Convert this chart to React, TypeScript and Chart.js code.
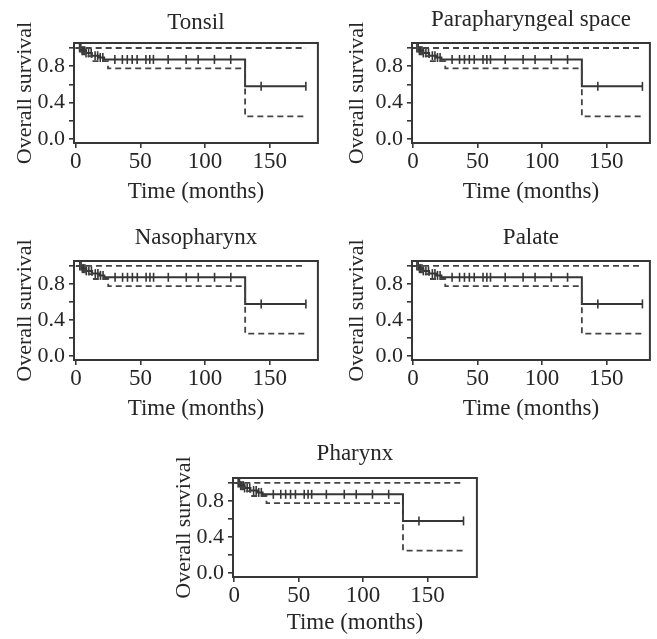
import React, { useEffect, useRef } from 'react';
import { Chart, registerables } from 'chart.js';
Chart.register(...registerables);

// ---------- data ----------
const panelTitles = ['Tonsil', 'Parapharyngeal space', 'Nasopharynx', 'Palate', 'Pharynx'];

// Kaplan-Meier estimate (value after each step)
const survTimes = [0, 5, 8, 12.5, 18, 22, 131, 178];
const survValues = [1.0, 0.97, 0.945, 0.915, 0.895, 0.874, 0.578, 0.578];

// lower 95% CI
const lowerTimes = [0, 5, 8, 12.5, 25, 131, 178];
const lowerValues = [1.0, 0.95, 0.91, 0.855, 0.775, 0.248, 0.248];

// upper 95% CI
const upperTimes = [0, 178];
const upperValues = [1.0, 1.0];

// censored observations (months)
const censorTimes = [3, 4, 5, 6, 7, 8, 10, 12, 15, 17, 19, 21, 30.3, 36.1, 39.9, 43.7, 47.5, 54.3, 57.3, 60.1, 71.5, 85.4, 94.7, 107.3, 119.9, 143.4, 178];

const xTicks = [0, 50, 100, 150];
const yTicks = [0, 0.2, 0.4, 0.6, 0.8, 1.0];
const yLabelled = [0, 0.4, 0.8];

// ---------- layout (page pixels) ----------
const layouts = [
  { boxLeft: 74, boxRight: 322, boxTop: 43, boxBottom: 143, titleY: 23, xTitleY: 192, yTitleX: 25, xMin: -1.3, xMax: 187.3 },
  { boxLeft: 412, boxRight: 654, boxTop: 43, boxBottom: 143, titleY: 20, xTitleY: 192, yTitleX: 357, xMin: -0.8, xMax: 183.8 },
  { boxLeft: 74, boxRight: 322, boxTop: 261, boxBottom: 360, titleY: 238, xTitleY: 409, yTitleX: 25, xMin: -1.5, xMax: 187.3 },
  { boxLeft: 412, boxRight: 654, boxTop: 261, boxBottom: 360, titleY: 238, xTitleY: 409, yTitleX: 357, xMin: -0.8, xMax: 183.8 },
  { boxLeft: 233, boxRight: 481, boxTop: 478, boxBottom: 577, titleY: 454, xTitleY: 623, yTitleX: 184, xMin: -1.0, xMax: 188.4 },
];

const YW = 80;
const TH = 45;
const XH = 62;
const RP = 2;
const FAMILY = '"Liberation Serif", "DejaVu Serif", "Times New Roman", serif';
const TEXT = '#262626';
const LINE = '#363636';
const DASH = '#444444';

function stepValue(times: number[], values: number[], t: number) {
  let v = values[0];
  for (let i = 0; i < times.length; i++) if (times[i] <= t) v = values[i];
  return v;
}

const pts = (ts: number[], vs: number[]) => ts.map((t, i) => ({ x: t, y: vs[i] }));

const boxPlugin = {
  id: 'kmBox',
  afterDraw(chart: any) {
    const { ctx, chartArea } = chart;
    const { left, top, right, bottom } = chartArea;
    ctx.save();
    ctx.strokeStyle = LINE;
    ctx.lineWidth = 2;
    ctx.strokeRect(left, top, right - left, bottom - top);
    ctx.restore();
  },
};

function Panel({ title, lay }: { title: string; lay: any }) {
  const ref = useRef<HTMLCanvasElement>(null);
  const cw = YW + (lay.boxRight - lay.boxLeft) + RP;
  const ch = TH + (lay.boxBottom - lay.boxTop) + XH;
  const cl = lay.boxLeft - YW;
  const ct = lay.boxTop - TH;

  useEffect(() => {
    if (!ref.current) return;
    const titleSize = 23, yTitleSize = 22, xTitleSize = 23;
    const tPadTop = lay.titleY - ct - (titleSize * 1.2) / 2;
    const tPadBottom = TH - titleSize * 1.2 - tPadTop;
    const yTitlePad = lay.yTitleX - cl - (yTitleSize * 1.2) / 2;
    const xTitlePad = ch - (lay.xTitleY - ct) - (xTitleSize * 1.2) / 2;

    const censorPts = censorTimes.map((t) => ({ x: t, y: stepValue(survTimes, survValues, t) }));

    const chart = new Chart(ref.current, {
      type: 'line',
      data: {
        datasets: [
          {
            data: pts(upperTimes, upperValues),
            stepped: 'before',
            borderColor: DASH,
            borderWidth: 1.8,
            borderDash: [6, 4],
            pointRadius: 0,
            fill: false,
          },
          {
            data: pts(lowerTimes, lowerValues),
            stepped: 'before',
            borderColor: DASH,
            borderWidth: 1.8,
            borderDash: [6, 4],
            pointRadius: 0,
            fill: false,
          },
          {
            data: pts(survTimes, survValues),
            stepped: 'before',
            borderColor: LINE,
            borderWidth: 2,
            pointRadius: 0,
            fill: false,
          },
          {
            data: censorPts,
            showLine: false,
            pointStyle: 'line',
            rotation: 90,
            pointRadius: 4.5,
            pointBorderWidth: 1.6,
            borderColor: LINE,
            pointBorderColor: LINE,
            backgroundColor: LINE,
          },
        ] as any,
      },
      options: {
        animation: false,
        responsive: false,
        maintainAspectRatio: false,
        layout: { padding: { left: 0, right: RP, top: 0, bottom: 0 } },
        plugins: {
          legend: { display: false },
          tooltip: { enabled: false },
          title: {
            display: true,
            fullSize: false,
            text: title,
            color: TEXT,
            font: { family: FAMILY, size: titleSize, weight: 'normal', lineHeight: 1.2 },
            padding: { top: tPadTop, bottom: tPadBottom },
          },
        },
        scales: {
          x: {
            type: 'linear',
            min: lay.xMin,
            max: lay.xMax,
            afterBuildTicks: (s: any) => {
              s.ticks = xTicks.map((v) => ({ value: v }));
            },
            afterFit: (s: any) => {
              s.height = XH;
            },
            ticks: {
              color: TEXT,
              font: { family: FAMILY, size: 23, lineHeight: 1.2 },
              padding: 0,
              maxRotation: 0,
              autoSkip: false,
              callback: (v: any) => String(v),
            },
            grid: { display: true, drawOnChartArea: false, drawTicks: true, tickLength: 5, color: LINE, lineWidth: 1.6 },
            border: { display: false },
            title: {
              display: true,
              text: 'Time (months)',
              color: TEXT,
              font: { family: FAMILY, size: xTitleSize, lineHeight: 1.2 },
              padding: { top: 0, bottom: xTitlePad },
            },
          },
          y: {
            type: 'linear',
            min: -0.045,
            max: 1.055,
            afterBuildTicks: (s: any) => {
              s.ticks = yTicks.map((v) => ({ value: v }));
            },
            afterFit: (s: any) => {
              s.width = YW;
            },
            ticks: {
              color: TEXT,
              font: { family: FAMILY, size: 22, lineHeight: 1.2 },
              padding: 4,
              autoSkip: false,
              callback: (v: any) => (yLabelled.includes(v) ? Number(v).toFixed(1) : ''),
            },
            grid: { display: true, drawOnChartArea: false, drawTicks: true, tickLength: 5, color: LINE, lineWidth: 1.6 },
            border: { display: false },
            title: {
              display: true,
              text: 'Overall survival',
              color: TEXT,
              font: { family: FAMILY, size: yTitleSize, lineHeight: 1.2 },
              padding: { top: yTitlePad, bottom: 0 },
            },
          },
        },
      } as any,
      plugins: [boxPlugin],
    });
    return () => chart.destroy();
  }, []);

  return (
    <canvas
      ref={ref}
      width={cw}
      height={ch}
      style={{ position: 'absolute', left: cl, top: ct, width: cw, height: ch }}
    />
  );
}

export default function App() {
  return (
    <div
      style={{
        position: 'absolute',
        left: 0,
        top: 0,
        width: 657,
        height: 639,
        overflow: 'hidden',
        background: '#fff',
      }}
    >
      {panelTitles.map((t, i) => (
        <Panel key={t} title={t} lay={layouts[i]} />
      ))}
    </div>
  );
}
